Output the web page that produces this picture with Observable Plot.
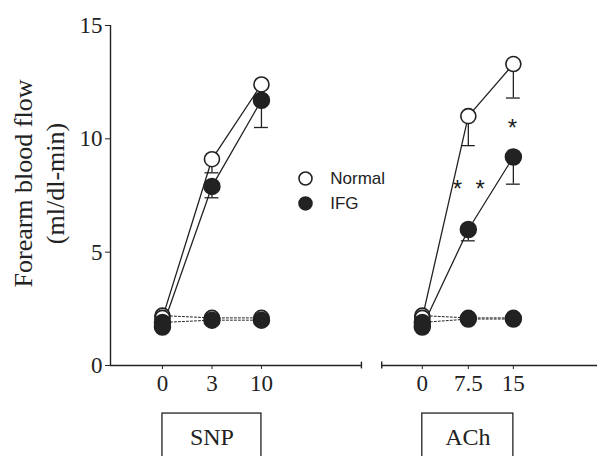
<!DOCTYPE html>
<html><head><meta charset="utf-8">
<script src="https://cdn.jsdelivr.net/npm/d3@7"></script>
<script src="https://cdn.jsdelivr.net/npm/@observablehq/plot@0.6"></script>
<style>html,body{margin:0;padding:0;background:#fff;overflow:hidden}</style>
</head><body><div id="chart"></div>
<script>
// ---- data ----
const groups      = ["SNP","SNP","SNP","ACh","ACh","ACh"];
const doseLabels  = ["0","3","10","0","7.5","15"];
const xPos        = [0, 1, 2, 5.25, 6.18, 7.09];   // category positions along the broken x axis
const normalMean  = [2.1, 9.1, 12.4, 2.1, 11.0, 13.3];
const normalSE    = [0, 0.6, 0, 0, 1.3, 1.5];
const ifgMean     = [1.7, 7.9, 11.7, 1.7, 6.0, 9.2];
const ifgSE       = [0, 0.5, 1.2, 0, 0.5, 1.2];
const normalBase  = [2.2, 2.1, 2.1, 2.2, 2.1, 2.1];
const ifgBase     = [1.9, 2.0, 2.0, 1.9, 2.05, 2.05];
const boxLabels   = ["SNP","ACh"];
const yTicks      = [0, 5, 10, 15];
const starLabels  = ["*","*","*"];
const starX       = [5.96, 6.42, 7.07];
const starY       = [8.0, 8.0, 10.7];
const legendNames = ["Normal","IFG"];
const yLabelLines = ["Forearm blood flow","(ml/dl-min)"];

const rows = groups.map((g,i)=>({group:g, x:xPos[i], label:doseLabels[i],
  nM:normalMean[i], nS:normalSE[i], iM:ifgMean[i], iS:ifgSE[i], nB:normalBase[i], iB:ifgBase[i]}));
const errN = rows.filter(d=>d.nS>0), errI = rows.filter(d=>d.iS>0);
const labelOf = new Map(xPos.map((p,i)=>[p, doseLabels[i]]));
const boxes = boxLabels.map(b=>{const r=rows.filter(d=>d.group===b);return {label:b, x1:r[0].x, x2:r[r.length-1].x, xm:(r[0].x+r[r.length-1].x)/2};});
const stars = starLabels.map((s,i)=>({s, x:starX[i], y:starY[i]}));
const legend = legendNames.map((n,i)=>({n, y: i===0 ? 8.25 : 7.15}));

const xMin=-1.05, xMax=8.79, brk=[4.02,4.43];
const serif = "'Liberation Serif','Times New Roman',serif";
const sans = "'Liberation Sans',Arial,sans-serif";
const ink = "#222";

const chart = Plot.plot({
  width:597, height:456,
  marginLeft:110, marginRight:0, marginTop:25, marginBottom:91,
  style:{fontFamily:serif, fontSize:"23px", color:ink, background:"white"},
  x:{domain:[xMin,xMax]},
  y:{domain:[0,15]},
  marks:[
    // axes
    Plot.ruleX([xMin],{y1:0,y2:15,stroke:ink,strokeWidth:1.4}),
    Plot.ruleY([{a:xMin,b:brk[0]},{a:brk[1],b:xMax}],{y:0,x1:"a",x2:"b",stroke:ink,strokeWidth:1.4}),
    Plot.ruleX(brk,{y1:-0.15,y2:0.15,stroke:ink,strokeWidth:1.4}),
    Plot.axisY(yTicks,{tickSize:5,tickPadding:3,fontSize:23,label:null}),
    Plot.axisX(xPos,{tickSize:4,tickPadding:5,fontSize:23,tickFormat:d=>labelOf.get(d),label:null}),
    Plot.text([yLabelLines[0]],{frameAnchor:"left",textAnchor:"middle",lineAnchor:"middle",rotate:-90,dx:-87,dy:-12,fontSize:26}),
    Plot.text([yLabelLines[1]],{frameAnchor:"left",textAnchor:"middle",lineAnchor:"middle",rotate:-90,dx:-55,dy:-12,fontSize:26}),
    // category boxes
    Plot.rect(boxes,{x1:"x1",x2:"x2",y1:-2.12,y2:-4.5,fill:"none",stroke:ink,strokeWidth:1.3}),
    Plot.text(boxes,{x:"xm",y:-3.18,text:"label",fontSize:24}),
    // baseline (dotted) lines
    Plot.line(rows,{x:"x",y:"nB",z:"group",stroke:ink,strokeWidth:1,strokeDasharray:"2,2"}),
    Plot.line(rows,{x:"x",y:"iB",z:"group",stroke:ink,strokeWidth:1,strokeDasharray:"2,2"}),
    // response lines
    Plot.line(rows,{x:"x",y:"nM",z:"group",stroke:ink,strokeWidth:1.3}),
    Plot.line(rows,{x:"x",y:"iM",z:"group",stroke:ink,strokeWidth:1.3}),
    // error bars (downward)
    Plot.ruleX(errN,{x:"x",y1:"nM",y2:d=>d.nM-d.nS,stroke:ink,strokeWidth:1.3}),
    Plot.ruleY(errN,{y:d=>d.nM-d.nS,x1:d=>d.x-0.14,x2:d=>d.x+0.14,stroke:ink,strokeWidth:1.3}),
    Plot.ruleX(errI,{x:"x",y1:"iM",y2:d=>d.iM-d.iS,stroke:ink,strokeWidth:1.3}),
    Plot.ruleY(errI,{y:d=>d.iM-d.iS,x1:d=>d.x-0.14,x2:d=>d.x+0.14,stroke:ink,strokeWidth:1.3}),
    // markers
    Plot.dot(rows,{x:"x",y:"nB",r:7.5,fill:"white",stroke:ink,strokeWidth:1.6}),
    Plot.dot(rows,{x:"x",y:"nM",r:7.5,fill:"white",stroke:ink,strokeWidth:1.6}),
    Plot.dot(rows,{x:"x",y:"iB",r:8,fill:ink,stroke:ink}),
    Plot.dot(rows,{x:"x",y:"iM",r:8,fill:ink,stroke:ink}),
    // significance stars
    Plot.text(stars,{x:"x",y:"y",text:"s",fontFamily:sans,fontSize:24,dy:5}),
    // legend
    Plot.dot(legend,{x:2.89,y:"y",r:6.5,fill:(d,i)=>i===0?"white":ink,stroke:ink,strokeWidth:1.6}),
    Plot.text(legend,{x:3.39,y:"y",text:"n",textAnchor:"start",fontFamily:sans,fontSize:17})
  ]
});
document.getElementById("chart").append(chart);
</script></body></html>
